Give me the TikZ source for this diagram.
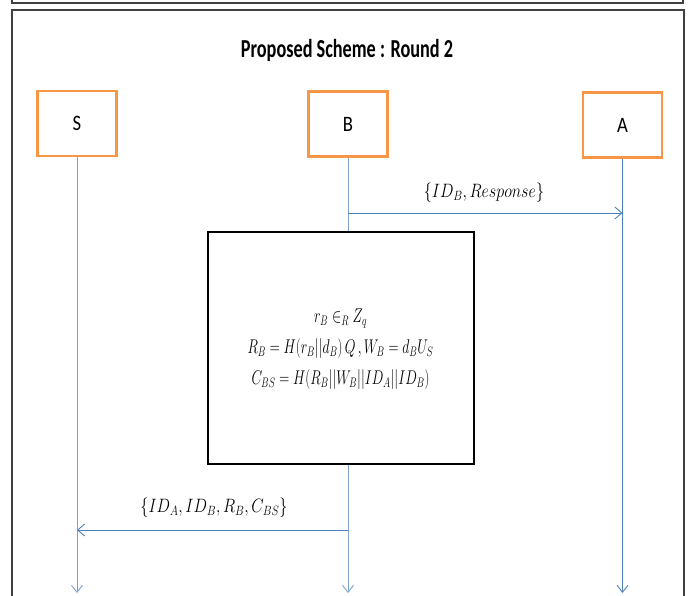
\documentclass[tikz,border=0pt]{standalone}
\usepackage{fontspec}
\setmainfont{Carlito}
\usetikzlibrary{arrows.meta}
\definecolor{boxorange}{HTML}{F79646}
\definecolor{lineblue}{HTML}{4F81BD}
\definecolor{lightblue}{HTML}{7FA3CF}
\definecolor{framegray}{HTML}{404040}
\begin{document}
\begin{tikzpicture}[x=1pt,y=-1pt,
  actor/.style={draw=boxorange,line width=2.2pt,fill=white,minimum width=79pt,minimum height=65pt,inner sep=0pt},
  actorlbl/.style={inner sep=0pt,font=\fontsize{22}{26}\selectfont,xscale=0.85},
  life/.style={draw=#1,line width=1pt,-{Straight Barb[length=7pt,width=11pt,line width=0.9pt]}},
  msg/.style={draw=lineblue,line width=1pt,-{Straight Barb[length=7pt,width=12pt,line width=0.9pt]}},
  calc/.style={draw=black,line width=2pt,fill=white,minimum width=266pt,minimum height=232pt,inner sep=0pt},
  calctxt/.style={inner sep=0pt,align=center,font=\fontsize{17.28}{27}\selectfont,xscale=0.8,yscale=1.15,transform shape},
  lbl/.style={inner sep=0pt,font=\fontsize{17.28}{20}\selectfont,xscale=0.93,yscale=1.12,transform shape},
  frame/.style={draw=framegray,line width=1.3pt}]
\useasboundingbox (0,0) rectangle (699,595);
% frames
\draw[frame] (12,0) -- (12,3) -- (683,3) -- (683,0);
\draw[frame] (12,600) -- (12,10) -- (684,10) -- (684,600);
% title
\node[inner sep=0pt,font=\bfseries\fontsize{24}{28}\selectfont,xscale=0.76,yscale=1.08,transform shape] (title) at (347,50) {Proposed Scheme : Round 2};
% actors
\node[actor] (S) at (77,123.5) {};
\node[actor] (B) at (348,124) {};
\node[actor] (A) at (622.5,125) {};
\node[actorlbl] (Sl) at (S) {S};
\node[actorlbl] (Bl) at (B) {B};
\node[actorlbl] (Al) at (A) {A};
% lifeline ends
\coordinate (Send) at (77,593);
\coordinate (Bend) at (348,593);
\coordinate (Aend) at (622.5,593);
\draw[life=lightblue] (S.south) -- (Send);
\draw[life=lightblue] (B.south) -- (Bend);
\draw[life=lineblue] (A.south) -- (Aend);
% message 1
\coordinate (m1a) at (348,213);
\coordinate (m1b) at (622.5,213);
\draw[msg] (m1a) -- (m1b);
\node[lbl] (l1) at (484,193) {$\{ID_B, Response\}$};
% computation box
\node[calc] (C) at (340.5,347.5) {};
\node[calctxt] (Ct) at (340.5,349.5) {$r_B \in_R Z_q$\\ $R_B = H(r_B||d_B)\,Q\,, W_B = d_B U_S$\\ $C_{BS} = H(R_B||W_B||ID_A||ID_B)$};
% message 2
\coordinate (m2a) at (348,530);
\coordinate (m2b) at (77,530);
\draw[msg] (m2a) -- (m2b);
\node[lbl] (l2) at (214,508) {$\{ID_A, ID_B, R_B, C_{BS}\}$};
\end{tikzpicture}
\end{document}
